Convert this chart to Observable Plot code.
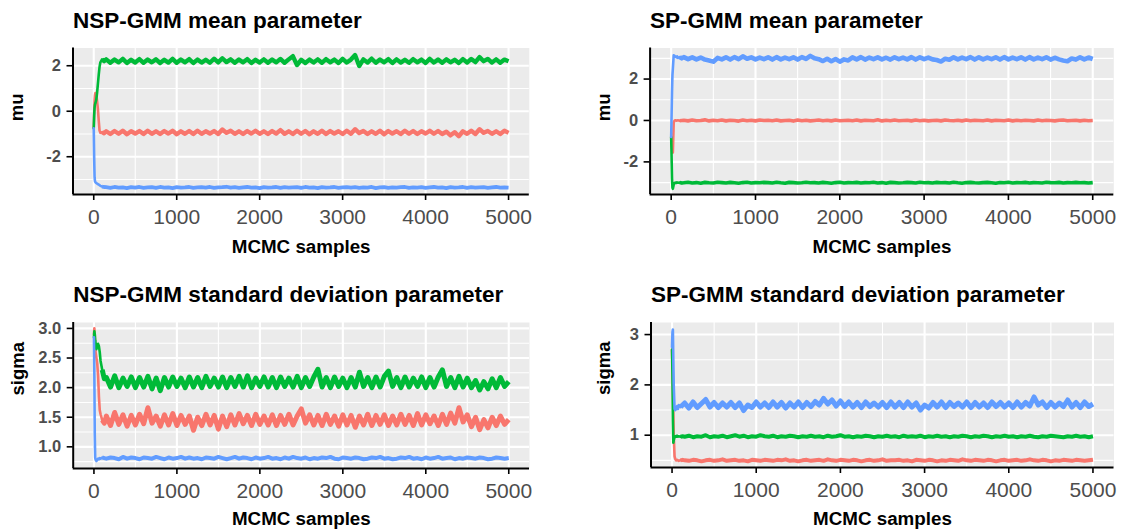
<!DOCTYPE html>
<html><head><meta charset="utf-8">
<script src="https://cdn.jsdelivr.net/npm/d3@7"></script>
<script src="https://cdn.jsdelivr.net/npm/@observablehq/plot@0.6"></script>
<style>
body{margin:0;background:#fff;}
#chart{position:relative;width:1121px;height:529px;overflow:hidden;font-family:"Liberation Sans",Arial,Helvetica,sans-serif;}
#chart .panel{position:absolute;}
</style></head><body><div id="chart"></div>
<script>
// ---- iterations: fine burn-in points, then every 50 samples from 150 to 5000
const burnIter = [0,5,10,15,20,30,40,50,60,70,80,100,125];
const mainStart = 150, mainStep = 50, mainEnd = 5000;

const seriesNames = ["1","2","3"];
const seriesColors = ["#F8766D","#00BA38","#619CFF"];

const xTicks = [0,1000,2000,3000,4000,5000];
const xMinor = [500,1500,2500,3500,4500];

// ---- NSP-GMM mean parameter (mu)
const nspMuRed = [-0.75,-0.1,0.45,0.7,0.8,0.75,0.45,0.1,-0.4,-0.85,-0.95,-0.92,-0.97,
-0.88,-1.0,-0.87,-0.99,-0.86,-1.01,-0.88,-0.98,-0.87,-1.0,
-0.86,-0.99,-0.88,-1.0,-0.87,-0.98,-0.86,-1.01,-0.88,-0.99,
-0.87,-1.0,-0.86,-0.99,-0.88,-0.98,-0.87,-1.0,-0.8,-0.95,
-0.86,-0.99,-0.88,-1.0,-0.87,-0.98,-0.86,-0.99,-0.88,-1.0,
-0.87,-0.98,-0.83,-0.99,-0.88,-1.0,-0.86,-0.99,-0.87,-1.01,
-0.88,-0.99,-0.86,-1.0,-0.87,-0.98,-0.88,-1.0,-0.86,-0.99,
-0.79,-0.96,-0.87,-1.0,-0.88,-0.99,-0.86,-1.01,-0.87,-0.98,
-0.88,-1.0,-0.86,-0.99,-0.87,-1.0,-0.88,-0.98,-0.86,-0.99,
-0.87,-1.0,-0.9,-1.06,-0.92,-1.1,-0.88,-0.99,-0.86,-1.0,
-0.79,-0.95,-0.87,-0.99,-0.88,-1.0,-0.86,-0.95];
const nspMuGreen = [-0.75,-0.2,0.15,0.3,0.35,0.5,0.8,1.2,1.6,1.95,2.15,2.28,2.2,
2.28,2.13,2.27,2.15,2.3,2.12,2.26,2.14,2.29,2.13,
2.27,2.15,2.28,2.12,2.26,2.14,2.3,2.13,2.27,2.15,
2.29,2.12,2.27,2.14,2.26,2.13,2.31,2.15,2.33,2.16,
2.28,2.13,2.27,2.15,2.29,2.12,2.26,2.14,2.28,2.13,
2.27,2.15,2.3,2.13,2.28,2.42,2.03,2.26,2.12,2.27,
2.14,2.28,2.13,2.29,2.15,2.27,2.12,2.3,2.14,2.27,
2.47,1.99,2.28,2.14,2.31,2.13,2.27,2.15,2.29,2.12,
2.28,2.14,2.26,2.13,2.29,2.15,2.27,2.12,2.3,2.14,
2.27,2.13,2.28,2.15,2.26,2.12,2.29,2.14,2.3,2.16,
2.38,2.2,2.3,2.14,2.28,2.13,2.27,2.2];
const nspMuBlue = [-0.75,-2.0,-2.9,-3.08,-3.12,-3.15,-3.18,-3.2,-3.23,-3.25,-3.28,-3.31,-3.33,
-3.34,-3.37,-3.33,-3.36,-3.35,-3.38,-3.34,-3.36,-3.33,-3.37,
-3.35,-3.34,-3.37,-3.33,-3.36,-3.35,-3.38,-3.34,-3.36,-3.35,
-3.33,-3.37,-3.35,-3.34,-3.36,-3.33,-3.37,-3.35,-3.34,-3.32,
-3.36,-3.34,-3.37,-3.35,-3.33,-3.36,-3.35,-3.38,-3.34,-3.36,
-3.35,-3.33,-3.37,-3.34,-3.36,-3.35,-3.34,-3.37,-3.33,-3.36,
-3.35,-3.38,-3.34,-3.36,-3.35,-3.33,-3.37,-3.35,-3.34,-3.36,
-3.34,-3.37,-3.35,-3.36,-3.33,-3.38,-3.35,-3.34,-3.37,-3.35,
-3.36,-3.34,-3.33,-3.37,-3.35,-3.36,-3.34,-3.37,-3.35,-3.33,
-3.36,-3.35,-3.38,-3.34,-3.36,-3.35,-3.33,-3.37,-3.34,-3.36,
-3.35,-3.34,-3.37,-3.35,-3.33,-3.36,-3.35,-3.36];

// ---- SP-GMM mean parameter (mu)
const spMuRed = [-0.8,-1.0,-1.25,-1.5,-1.55,-0.1,0.0,0.01,-0.01,0.0,0.01,-0.01,0.0,
0.01,-0.02,0.02,-0.01,0.0,0.03,-0.02,0.01,-0.01,0.02,
-0.02,0.01,0.0,-0.03,0.02,-0.01,0.01,-0.02,0.02,0.0,
0.01,-0.01,0.02,-0.02,0.0,0.01,-0.03,0.02,-0.01,0.01,
-0.02,0.0,0.02,-0.01,0.01,-0.02,0.02,-0.01,0.0,0.01,
-0.01,0.02,-0.02,0.01,0.0,-0.01,0.03,-0.02,0.01,-0.01,
0.02,-0.01,0.0,0.01,-0.02,0.02,-0.01,0.01,-0.02,0.0,
0.01,-0.02,0.02,0.0,-0.01,0.01,-0.02,0.02,-0.01,0.01,
0.0,-0.01,0.02,-0.02,0.01,0.0,-0.01,0.02,-0.02,0.01,
-0.01,0.01,0.0,-0.02,0.02,-0.01,0.01,0.0,-0.02,0.01,
0.02,-0.01,0.0,0.01,-0.02,0.01,-0.01,0.0];
const spMuGreen = [-0.8,-1.8,-2.8,-3.25,-3.3,-3.1,-3.02,-3.0,-3.02,-2.99,-3.01,-3.0,-3.02,
-3.01,-2.98,-3.02,-3.0,-3.03,-2.99,-3.01,-3.02,-2.98,-3.0,
-3.02,-2.99,-3.01,-3.03,-3.0,-2.98,-3.02,-3.0,-3.01,-2.99,
-3.0,-3.02,-2.98,-3.01,-3.03,-2.99,-3.0,-3.02,-3.01,-2.98,
-3.01,-3.0,-3.02,-2.99,-3.01,-3.03,-3.0,-2.98,-3.02,-3.0,
-3.01,-2.99,-3.02,-3.0,-3.01,-2.98,-3.02,-3.0,-3.03,-2.99,
-3.0,-3.02,-3.01,-2.99,-3.0,-3.02,-2.98,-3.01,-3.0,-3.02,
-2.99,-3.01,-3.0,-3.02,-2.98,-3.01,-3.03,-3.0,-2.99,-3.01,
-3.02,-3.0,-2.99,-3.01,-3.03,-3.0,-3.01,-2.98,-3.02,-3.0,
-3.01,-2.99,-3.02,-3.0,-3.01,-3.02,-2.98,-3.0,-3.01,-2.99,
-3.02,-3.0,-3.01,-2.99,-3.01,-3.0,-3.02,-3.0];
const spMuBlue = [-0.8,0.3,1.4,2.2,2.5,3.15,3.12,3.08,3.05,3.1,3.02,3.06,3.0,
3.06,2.96,3.05,2.95,3.04,2.94,2.9,2.84,3.02,2.95,
3.05,2.94,3.06,2.96,3.1,2.98,3.05,2.95,3.04,2.96,
3.05,2.94,3.06,2.95,3.04,2.96,3.05,2.94,3.06,2.97,
3.12,3.0,2.96,2.87,2.98,2.86,2.97,2.84,2.95,2.9,
3.05,2.95,3.06,2.94,3.04,2.96,3.05,2.95,3.03,2.94,
3.05,2.96,3.04,2.95,3.06,2.94,3.05,2.96,3.04,2.95,
2.92,2.85,2.98,2.93,3.05,2.95,3.04,2.96,3.06,2.94,
3.05,2.95,3.04,2.96,3.05,2.94,3.06,2.95,3.04,2.96,
3.05,2.94,3.06,2.95,3.04,2.96,3.05,2.94,3.03,2.95,
2.9,2.86,2.99,2.94,3.05,2.95,3.04,2.97];

// ---- NSP-GMM standard deviation parameter (sigma)
const nspSigmaRed = [2.9,3.0,2.9,2.75,2.6,2.5,2.4,2.2,1.85,1.62,1.55,1.45,1.4,
1.52,1.36,1.58,1.38,1.54,1.35,1.53,1.37,1.55,1.39,
1.66,1.4,1.52,1.35,1.54,1.37,1.56,1.36,1.53,1.38,
1.52,1.28,1.5,1.36,1.55,1.37,1.53,1.3,1.52,1.34,
1.54,1.37,1.56,1.39,1.53,1.36,1.55,1.38,1.52,1.37,
1.54,1.36,1.53,1.38,1.55,1.37,1.52,1.64,1.4,1.54,
1.37,1.53,1.36,1.55,1.38,1.52,1.35,1.54,1.37,1.53,
1.33,1.52,1.37,1.55,1.36,1.53,1.38,1.54,1.36,1.52,
1.37,1.55,1.38,1.53,1.36,1.56,1.37,1.54,1.39,1.52,
1.36,1.55,1.38,1.57,1.4,1.66,1.42,1.54,1.34,1.5,
1.29,1.46,1.32,1.5,1.36,1.52,1.38,1.46];
const nspSigmaGreen = [2.85,2.95,2.9,2.8,2.75,2.65,2.7,2.74,2.7,2.6,2.45,2.3,2.15,
2.17,2.01,2.2,2.0,2.16,2.02,2.18,2.0,2.17,2.01,
2.19,1.98,2.16,1.95,2.17,2.01,2.18,2.02,2.16,2.0,
2.18,2.01,2.17,2.0,2.19,2.02,2.16,2.01,2.18,2.0,
2.17,2.02,2.19,2.01,2.2,2.0,2.16,2.02,2.18,2.01,
2.17,2.0,2.18,2.02,2.16,2.01,2.19,2.0,2.17,2.02,
2.18,2.31,2.01,2.17,2.0,2.18,2.02,2.16,2.0,2.17,
2.01,2.26,2.02,2.17,2.0,2.18,2.01,2.19,2.28,2.02,
2.17,2.0,2.18,2.01,2.16,2.02,2.18,2.0,2.17,2.01,
2.18,2.3,2.02,2.17,2.0,2.19,2.01,2.16,2.0,2.12,
1.96,2.1,1.98,2.15,2.0,2.17,2.02,2.1];
const nspSigmaBlue = [2.85,2.2,1.2,0.82,0.78,0.76,0.78,0.8,0.79,0.81,0.8,0.82,0.81,
0.8,0.82,0.81,0.79,0.83,0.8,0.82,0.81,0.79,0.82,
0.81,0.8,0.83,0.81,0.79,0.82,0.8,0.81,0.83,0.8,
0.82,0.8,0.81,0.79,0.82,0.81,0.8,0.83,0.81,0.79,
0.81,0.83,0.8,0.82,0.81,0.79,0.82,0.8,0.81,0.83,
0.8,0.81,0.79,0.82,0.8,0.83,0.81,0.8,0.82,0.79,
0.81,0.8,0.82,0.81,0.83,0.8,0.79,0.82,0.81,0.8,
0.82,0.81,0.79,0.8,0.82,0.81,0.83,0.8,0.81,0.79,
0.8,0.82,0.81,0.83,0.8,0.81,0.79,0.82,0.8,0.81,
0.83,0.8,0.81,0.82,0.79,0.81,0.8,0.82,0.81,0.8,
0.82,0.81,0.79,0.8,0.82,0.81,0.8,0.81];

// ---- SP-GMM standard deviation parameter (sigma)
const spSigmaRed = [2.7,2.4,2.0,1.5,1.0,0.58,0.52,0.5,0.51,0.5,0.49,0.5,0.51,
0.5,0.49,0.51,0.5,0.48,0.5,0.51,0.49,0.5,0.52,
0.49,0.5,0.51,0.49,0.5,0.48,0.51,0.5,0.49,0.51,
0.5,0.49,0.51,0.5,0.52,0.49,0.5,0.48,0.5,0.51,
0.49,0.5,0.51,0.49,0.52,0.5,0.49,0.51,0.5,0.49,
0.51,0.5,0.48,0.5,0.51,0.49,0.5,0.52,0.49,0.5,
0.5,0.51,0.49,0.5,0.48,0.51,0.5,0.49,0.51,0.5,
0.48,0.5,0.49,0.51,0.5,0.49,0.52,0.5,0.49,0.51,
0.5,0.49,0.51,0.5,0.48,0.5,0.51,0.49,0.5,0.51,
0.49,0.5,0.52,0.5,0.49,0.51,0.5,0.48,0.5,0.49,
0.51,0.5,0.49,0.51,0.5,0.49,0.5,0.51];
const spSigmaGreen = [2.7,2.2,1.3,0.85,0.9,0.96,0.98,0.97,0.99,0.97,0.98,0.97,0.98,
0.97,0.99,0.96,0.98,0.97,1.0,0.96,0.98,0.97,0.99,
0.96,0.98,1.0,0.97,0.99,0.96,0.98,0.97,1.0,0.98,
0.97,0.99,0.96,0.98,0.97,0.99,0.98,0.96,0.98,0.97,
0.99,0.97,0.98,0.96,0.99,0.97,0.98,1.0,0.97,0.98,
0.96,0.98,0.97,0.99,0.98,0.96,0.98,0.97,0.99,0.97,
0.98,0.96,0.99,0.97,0.98,0.97,0.99,0.96,0.98,0.97,
0.99,0.97,0.98,0.96,0.98,0.97,0.99,0.98,0.96,0.98,
0.97,0.99,0.98,0.96,0.98,0.97,0.99,0.97,0.98,0.96,
0.98,0.97,0.99,0.97,0.96,0.98,0.97,0.99,0.98,0.97,
0.96,0.98,0.97,0.99,0.97,0.98,0.96,0.98];
const spSigmaBlue = [2.75,3.05,3.1,2.5,2.0,1.52,1.5,1.55,1.58,1.52,1.6,1.56,1.6,
1.64,1.54,1.66,1.55,1.63,1.71,1.56,1.65,1.55,1.64,
1.56,1.65,1.55,1.64,1.49,1.6,1.55,1.66,1.56,1.64,
1.55,1.66,1.56,1.65,1.54,1.64,1.56,1.66,1.55,1.65,
1.57,1.67,1.6,1.73,1.62,1.7,1.58,1.68,1.57,1.66,
1.56,1.65,1.55,1.66,1.57,1.64,1.56,1.65,1.55,1.66,
1.56,1.65,1.55,1.66,1.56,1.64,1.5,1.6,1.54,1.65,
1.56,1.66,1.55,1.65,1.57,1.64,1.56,1.66,1.55,1.65,
1.56,1.64,1.55,1.66,1.57,1.65,1.56,1.64,1.55,1.66,
1.56,1.65,1.58,1.76,1.6,1.66,1.55,1.65,1.56,1.64,
1.57,1.7,1.56,1.65,1.55,1.66,1.57,1.62];

// ---- iteration index for each stored value
const iterations = burnIter.concat(d3.range(mainStart, mainEnd + 1, mainStep));

const FONT = '"Liberation Sans", Arial, Helvetica, sans-serif';
// thin stroke for the burn-in transient, thicker stroke for the dense stationary trace
const burnWidth = 2.6;
const burnSplit = 100;   // iteration where the stationary (dense) part starts

const panels = [
  {title: "NSP-GMM mean parameter", yLabel: "mu", series: [nspMuRed, nspMuGreen, nspMuBlue],
   widths: [4.4, 4.4, 3.8],
   yDomain: [-3.66, 2.78], yTicks: [-2, 0, 2], yMinor: [-3, -1, 1], fmt: d => String(d),
   left: 0, top: 0, width: 560, height: 265, ml: 72.5, mr: 31.2, mt: 47.5, mb: 71,
   titleDy: -20, xLabDy: 52, yLabDx: -56},
  {title: "SP-GMM mean parameter", yLabel: "mu", series: [spMuRed, spMuGreen, spMuBlue],
   widths: [3.6, 3.6, 4.6],
   yDomain: [-3.575, 3.5], yTicks: [-2, 0, 2], yMinor: [-3, -1, 1, 3], fmt: d => String(d),
   left: 560, top: 0, width: 561, height: 265, ml: 89.6, mr: 7.7, mt: 47.5, mb: 71,
   titleDy: -20, xLabDy: 52, yLabDx: -45.6},
  {title: "NSP-GMM standard deviation parameter", yLabel: "sigma", series: [nspSigmaRed, nspSigmaGreen, nspSigmaBlue],
   widths: [5, 5, 4],
   yDomain: [0.634, 3.10], yTicks: [1, 1.5, 2, 2.5, 3], yMinor: [0.75, 1.25, 1.75, 2.25, 2.75], fmt: d3.format(".1f"),
   left: 0, top: 265, width: 560, height: 264, ml: 72.7, mr: 31, mt: 57, mb: 61,
   titleDy: -20.5, xLabDy: 50.3, yLabDx: -55.4},
  {title: "SP-GMM standard deviation parameter", yLabel: "sigma", series: [spSigmaRed, spSigmaGreen, spSigmaBlue],
   widths: [4, 4, 5],
   yDomain: [0.358, 3.24], yTicks: [1, 2, 3], yMinor: [0.5, 1.5, 2.5], fmt: d => String(d),
   left: 560, top: 265, width: 561, height: 264, ml: 90.5, mr: 7.5, mt: 57, mb: 62,
   titleDy: -20.5, xLabDy: 51.3, yLabDx: -46.5}
];

const xDomain = [-250, 5250];
const root = document.getElementById("chart");

for (const p of panels) {
  const lines = [];
  p.series.forEach((vals, k) => {
    const rows = vals.map((v, i) => ({iter: iterations[i], value: v, series: seriesNames[k]}));
    lines.push(Plot.line(rows.filter(d => d.iter <= burnSplit + 50), {x: "iter", y: "value",
      stroke: seriesColors[k], strokeWidth: burnWidth, strokeLinejoin: "round", strokeLinecap: "round"}));
    lines.push(Plot.line(rows.filter(d => d.iter >= burnSplit), {x: "iter", y: "value",
      stroke: seriesColors[k], strokeWidth: p.widths[k], strokeLinejoin: "round", strokeLinecap: "butt"}));
  });
  const svg = Plot.plot({
    width: p.width, height: p.height,
    marginLeft: p.ml, marginRight: p.mr, marginTop: p.mt, marginBottom: p.mb,
    style: {color: "#4d4d4d", fontFamily: FONT, background: "transparent", overflow: "visible"},
    x: {domain: xDomain},
    y: {domain: p.yDomain},
    marks: [
      Plot.frame({fill: "#EBEBEB", stroke: null}),
      Plot.gridX(xMinor, {stroke: "#fff", strokeOpacity: 1, strokeWidth: 1.1}),
      Plot.gridY(p.yMinor, {stroke: "#fff", strokeOpacity: 1, strokeWidth: 1.1}),
      Plot.gridX(xTicks, {stroke: "#fff", strokeOpacity: 1, strokeWidth: 2.1}),
      Plot.gridY(p.yTicks, {stroke: "#fff", strokeOpacity: 1, strokeWidth: 2.1}),
      ...lines,
      Plot.ruleX([xDomain[0]], {stroke: "#000", strokeWidth: 2}),
      Plot.ruleY([p.yDomain[0]], {stroke: "#000", strokeWidth: 2}),
      Plot.axisX(xTicks, {tickSize: 6, tickPadding: 9, stroke: "#000", strokeWidth: 1.6,
        fontSize: 21, tickFormat: d => String(d), label: null}),
      Plot.axisY(p.yTicks, {tickSize: 6, tickPadding: 6, stroke: "#000", strokeWidth: 1.6,
        fontSize: 16.5, fontWeight: "bold", tickFormat: p.fmt, label: null}),
      Plot.text([p.title], {text: d => d, frameAnchor: "top-left", textAnchor: "start", lineAnchor: "bottom",
        dy: p.titleDy, fontSize: 22.5, fontWeight: "bold", fill: "#000"}),
      Plot.text(["MCMC samples"], {text: d => d, frameAnchor: "bottom", lineAnchor: "middle",
        dy: p.xLabDy, fontSize: 18.8, fontWeight: "bold", fill: "#000"}),
      Plot.text([p.yLabel], {text: d => d, frameAnchor: "left", lineAnchor: "middle", rotate: -90,
        dx: p.yLabDx, fontSize: 18.5, fontWeight: "bold", fill: "#000"})
    ]
  });
  const wrap = document.createElement("div");
  wrap.className = "panel";
  wrap.style.left = p.left + "px";
  wrap.style.top = p.top + "px";
  wrap.appendChild(svg);
  root.appendChild(wrap);
}
</script></body></html>
